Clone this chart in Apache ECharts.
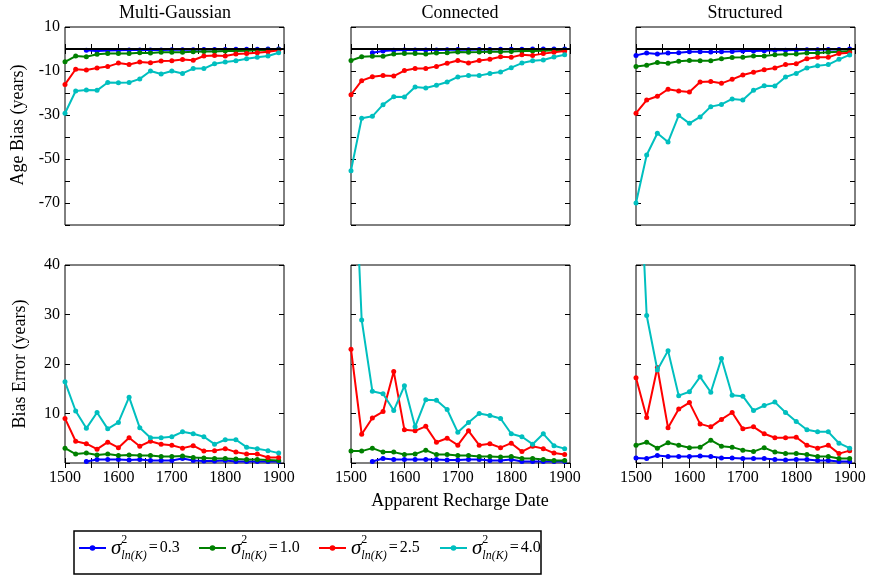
<!DOCTYPE html>
<html>
<head>
<meta charset="utf-8">
<script src="https://cdn.jsdelivr.net/npm/echarts@6/dist/echarts.min.js"></script>
<style>
html,body{margin:0;padding:0;background:#fff;}
#chart{width:869px;height:579px;}
</style>
</head>
<body>
<div id="chart"></div>
<script>
// ---------- data ----------
const years = [1500,1520,1540,1560,1580,1600,1620,1640,1660,1680,1700,1720,1740,1760,1780,1800,1820,1840,1860,1880,1900];
const panelTitles = ['Multi-Gaussian','Connected','Structured'];
const seriesNames = ['0.3','1.0','2.5','4.0'];
const seriesColors = ['#0000ff','#008000','#ff0000','#00bfbf'];
const xTicks = [1500,1600,1700,1800,1900];
const biasTicks = [10,-10,-30,-50,-70];
const errTicks = [10,20,30,40];

// Age Bias (years)
const mgBias03  = [null,null,-0.6,-0.9,-0.7,-0.6,-0.5,-0.5,-0.4,-0.4,-0.3,-0.3,-0.3,-0.2,-0.2,-0.2,-0.1,-0.1,-0.1,0,0];
const mgBias10  = [-5.8,-3.2,-3.5,-2.4,-2.1,-2.0,-2.0,-1.7,-1.8,-1.5,-1.5,-1.5,-1.3,-1.1,-1.1,-0.9,-0.9,-0.8,-0.6,-0.5,-0.3];
const mgBias25  = [-16.1,-9.2,-9.5,-8.6,-8.0,-6.4,-7.0,-5.9,-6.2,-5.5,-5.3,-4.8,-5.1,-3.2,-3.0,-3.2,-2.3,-2.1,-1.7,-1.2,-0.6];
const mgBias40  = [-29.2,-19.1,-18.6,-18.8,-15.2,-15.3,-15.2,-13.6,-10.0,-11.4,-10.0,-11.1,-8.9,-8.9,-6.7,-5.9,-5.3,-4.4,-3.8,-3.2,-1.7];

const conBias03 = [null,null,-1.7,-0.9,-0.6,-0.5,-0.4,-0.5,-0.4,-0.3,-0.2,-0.3,-0.2,-0.2,-0.1,-0.1,-0.1,0,0,0,0];
const conBias10 = [-5.2,-3.5,-3.3,-3.3,-2.3,-2.1,-2.0,-2.3,-1.8,-1.7,-1.4,-1.5,-1.4,-1.2,-1.2,-1.1,-0.9,-0.9,-0.8,-0.6,-0.5];
const conBias25 = [-20.8,-14.4,-12.6,-12.0,-12.3,-9.8,-8.9,-8.9,-7.9,-6.5,-5.2,-6.4,-5.2,-4.7,-3.5,-3.8,-2.6,-2.9,-2.1,-1.5,-0.9];
const conBias40 = [-55.3,-31.5,-30.6,-25.3,-21.7,-21.8,-17.3,-17.7,-16.5,-15.0,-12.7,-12.1,-12.1,-11.1,-10.5,-8.5,-6.4,-5.3,-5.0,-3.6,-2.6];

const strBias03 = [-2.9,-1.8,-2.3,-1.8,-1.7,-1.2,-1.2,-1.4,-1.2,-1.1,-0.9,-0.9,-0.8,-0.6,-0.6,-0.5,-0.3,-0.3,-0.2,-0.2,0];
const strBias10 = [-8.0,-7.4,-6.1,-6.5,-5.6,-5.2,-5.3,-5.3,-4.4,-3.9,-3.8,-3.2,-3.2,-2.6,-2.4,-2.3,-1.8,-1.8,-1.5,-1.2,-0.9];
const strBias25 = [-29.2,-23.2,-21.5,-18.3,-19.1,-19.5,-15.0,-14.8,-15.6,-13.8,-11.8,-10.6,-9.4,-8.6,-7.1,-6.7,-4.4,-3.8,-3.8,-2.1,-1.7];
const strBias40 = [-70.0,-48.2,-38.3,-42.3,-30.2,-33.8,-30.9,-26.2,-25.2,-22.7,-23.2,-18.8,-16.7,-16.8,-12.7,-11.1,-8.6,-7.6,-7.1,-4.7,-2.7];

// Bias Error (years)
const mgErr03  = [null,null,0.3,0.7,0.7,0.7,0.6,0.7,0.5,0.5,0.5,0.9,0.5,0.4,0.4,0.5,0.3,0.3,0.3,0.3,0.3];
const mgErr10  = [3.0,1.8,2.0,1.6,1.8,1.5,1.6,1.5,1.5,1.3,1.3,1.4,1.1,1.0,0.9,0.9,0.8,0.7,0.7,0.6,0.5];
const mgErr25  = [9.0,4.4,3.9,2.8,4.2,3.1,5.1,3.4,4.4,3.8,3.6,3.0,3.5,2.4,2.5,2.9,2.2,1.8,1.8,1.1,1.1];
const mgErr40  = [16.4,10.5,7.0,10.2,6.9,8.2,13.3,7.1,5.1,5.1,5.3,6.3,5.9,5.3,3.8,4.7,4.7,3.2,2.9,2.5,2.0];

const conErr03 = [null,null,0.3,0.9,0.7,0.7,0.7,0.7,0.7,0.6,0.6,0.7,0.7,0.5,0.5,0.7,0.3,0.3,0.3,0.3,0.3];
const conErr10 = [2.4,2.4,3.0,2.2,2.2,1.7,1.8,2.6,1.7,1.7,1.5,1.5,1.3,1.3,1.2,1.3,0.9,0.9,0.7,0.5,0.5];
const conErr25 = [23.0,5.8,9.1,10.4,18.5,6.7,6.5,7.4,4.2,5.0,3.6,6.5,3.6,3.9,3.1,4.0,2.3,3.4,2.9,2.0,1.7];
const conErr40 = [78.0,28.9,14.5,14.0,10.6,15.6,7.3,12.8,12.7,10.8,6.2,8.2,10.0,9.6,9.0,5.9,5.3,3.8,5.9,3.5,2.9];

const strErr03 = [1.0,0.9,1.5,1.3,1.3,1.3,1.4,1.3,1.0,1.0,0.9,0.9,0.9,0.7,0.6,0.7,0.7,0.5,0.5,0.3,0.3];
const strErr10 = [3.6,4.2,3.0,4.1,3.6,3.1,3.2,4.6,3.4,3.2,2.6,2.3,3.1,2.2,1.9,1.9,1.7,1.3,1.3,0.9,0.9];
const strErr25 = [17.2,9.2,19.3,7.1,10.9,12.2,7.9,7.3,8.8,10.2,6.9,7.3,5.9,5.1,5.1,5.2,3.6,3.0,3.6,1.9,2.5];
const strErr40 = [76.0,29.8,18.8,22.7,13.6,14.4,17.4,14.3,21.1,13.7,13.5,10.6,11.6,12.3,10.2,8.4,6.7,6.3,6.3,4.0,3.0];

const panels = [
  [mgBias03, mgBias10, mgBias25, mgBias40],
  [conBias03, conBias10, conBias25, conBias40],
  [strBias03, strBias10, strBias25, strBias40],
  [mgErr03, mgErr10, mgErr25, mgErr40],
  [conErr03, conErr10, conErr25, conErr40],
  [strErr03, strErr10, strErr25, strErr40]
];

// ---------- layout ----------
const SERIF = "'Liberation Serif', 'DejaVu Serif', serif";
const colLeft = [65, 351, 636];
const colWidth = 219;
const rowTop = [27, 265];
const rowHeight = 198;

const grids = [], xAxes = [], yAxes = [], series = [];
for (let g = 0; g < 6; g++) {
  const row = Math.floor(g / 3), col = g % 3;
  grids.push({left: colLeft[col], top: rowTop[row], width: colWidth, height: rowHeight,
    show: true, borderColor: '#000', borderWidth: 1, backgroundColor: 'transparent', containLabel: false});
  const tick = {show: true, inside: true, length: 5, lineStyle: {color: '#000', width: 1}};
  const xBase = {type: 'value', gridIndex: g, min: 1500, max: 1910, interval: 50,
    splitLine: {show: false}, axisLine: {show: false}, axisTick: tick};
  xAxes.push(Object.assign({}, xBase, {position: 'bottom',
    axisLabel: {show: row === 1, margin: 7, fontFamily: SERIF, fontSize: 16, color: '#000',
      showMaxLabel: false,
      formatter: v => xTicks.indexOf(v) >= 0 ? String(v) : ''}}));
  xAxes.push(Object.assign({}, xBase, {position: 'top', axisLabel: {show: false}}));
  const yBase = row === 0
    ? {min: -80, max: 10, interval: 10, labels: biasTicks}
    : {min: 0, max: 40, interval: 10, labels: errTicks};
  const yCommon = {type: 'value', gridIndex: g, min: yBase.min, max: yBase.max, interval: yBase.interval,
    splitLine: {show: false}, axisLine: {show: false}, axisTick: tick};
  yAxes.push(Object.assign({}, yCommon, {position: 'left',
    axisLabel: {show: col === 0, margin: 5, fontFamily: SERIF, fontSize: 16, color: '#000',
      formatter: v => yBase.labels.indexOf(v) >= 0 ? String(v) : ''}}));
  yAxes.push(Object.assign({}, yCommon, {position: 'right', axisLabel: {show: false}}));

  panels[g].forEach((arr, k) => {
    const s = {
      name: seriesNames[k], type: 'line', xAxisIndex: 2 * g, yAxisIndex: 2 * g,
      data: years.map((y, i) => [y, arr[i]]).filter(d => d[1] !== null),
      symbol: 'circle', symbolSize: 5, showSymbol: true, clip: true,
      color: seriesColors[k], lineStyle: {width: 2, color: seriesColors[k]},
      itemStyle: {color: seriesColors[k]}, animation: false, z: 2 + k
    };
    if (row === 0 && k === 3) {
      s.markLine = {silent: true, symbol: 'none', animation: false, label: {show: false},
        lineStyle: {color: '#000', width: 2, type: 'solid'}, data: [{yAxis: 0}]};
    }
    series.push(s);
  });
}

// legends
const legendLefts = [78, 198, 318, 439];
const rich = {
  s: {fontFamily: SERIF, fontStyle: 'italic', fontSize: 21, color: '#000', lineHeight: 28, verticalAlign: 'middle'},
  p: {fontFamily: SERIF, fontSize: 12, color: '#000', width: 0, lineHeight: 14, verticalAlign: 'top'},
  b: {fontFamily: SERIF, fontStyle: 'italic', fontSize: 12, color: '#000', lineHeight: 14, verticalAlign: 'bottom'},
  e: {fontFamily: SERIF, fontSize: 16, color: '#000', lineHeight: 28, verticalAlign: 'middle', padding: [0, 2, 0, 2]},
  t: {fontFamily: SERIF, fontSize: 16, color: '#000', lineHeight: 28, verticalAlign: 'middle'}
};
const legends = seriesNames.map((n, k) => ({
  data: [n], left: legendLefts[k], top: 534, padding: 0, itemWidth: 27, itemHeight: 7,
  itemGap: 0, selectedMode: false,
  formatter: name => '{s|σ}{p|2}{b|ln(K)}{e|=}{t|' + name + '}',
  textStyle: {rich: rich, fontFamily: SERIF}
}));

const graphics = [
  {type: 'rect', shape: {x: 74, y: 531, width: 467, height: 43}, style: {fill: 'none', stroke: '#000', lineWidth: 1.5}, silent: true},
  {type: 'text', x: 175, y: 13, style: {text: panelTitles[0], font: '18px ' + SERIF, fill: '#000', align: 'center', verticalAlign: 'middle', textAlign: 'center', textVerticalAlign: 'middle'}},
  {type: 'text', x: 460, y: 13, style: {text: panelTitles[1], font: '18px ' + SERIF, fill: '#000', align: 'center', verticalAlign: 'middle', textAlign: 'center', textVerticalAlign: 'middle'}},
  {type: 'text', x: 745, y: 13, style: {text: panelTitles[2], font: '18px ' + SERIF, fill: '#000', align: 'center', verticalAlign: 'middle', textAlign: 'center', textVerticalAlign: 'middle'}},
  {type: 'text', x: 18, y: 125, rotation: Math.PI / 2, style: {text: 'Age Bias (years)', font: '18px ' + SERIF, fill: '#000', align: 'center', verticalAlign: 'middle', textAlign: 'center', textVerticalAlign: 'middle'}},
  {type: 'text', x: 20, y: 364, rotation: Math.PI / 2, style: {text: 'Bias Error (years)', font: '18px ' + SERIF, fill: '#000', align: 'center', verticalAlign: 'middle', textAlign: 'center', textVerticalAlign: 'middle'}},
  {type: 'text', x: 460, y: 501, style: {text: 'Apparent Recharge Date', font: '18px ' + SERIF, fill: '#000', align: 'center', verticalAlign: 'middle', textAlign: 'center', textVerticalAlign: 'middle'}}
];

const chart = echarts.init(document.getElementById('chart'), null, {renderer: 'canvas'});
chart.setOption({
  animation: false,
  backgroundColor: '#fff',
  grid: grids, xAxis: xAxes, yAxis: yAxes, series: series,
  legend: legends, graphic: graphics
});
</script>
</body>
</html>
